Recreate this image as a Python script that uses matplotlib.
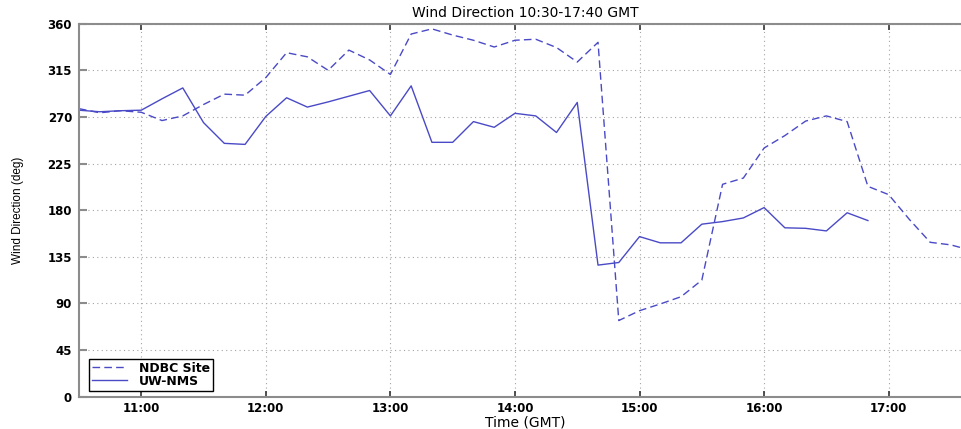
import matplotlib
matplotlib.use("Agg")
import matplotlib.pyplot as plt
import numpy as np

# sample times (GMT), 10 minute spacing
times = ["10:30", "10:40", "10:50", "11:00", "11:10", "11:20", "11:30", "11:40", "11:50",
         "12:00", "12:10", "12:20", "12:30", "12:40", "12:50", "13:00", "13:10", "13:20",
         "13:30", "13:40", "13:50", "14:00", "14:10", "14:20", "14:30", "14:40", "14:50",
         "15:00", "15:10", "15:20", "15:30", "15:40", "15:50", "16:00", "16:10", "16:20",
         "16:30", "16:40", "16:50", "17:00", "17:10", "17:20", "17:30", "17:40"]

# buoy wind direction (deg)
ndbc = [278, 274, 276, 274.5, 266.5, 271, 282, 292, 291,
        308, 332, 328, 315, 334.5, 325, 311, 350, 355,
        349, 344, 337.5, 344, 345, 337, 323, 342, 73.5,
        83, 89.5, 96.5, 112.5, 205, 211, 240, 252, 266,
        271, 265.5, 203, 195, 171, 149, 146.5, 141]

# model wind direction (deg), ends at 16:50
uwnms = [276.5, 275, 276, 276.5, 287.5, 298, 264.5, 244.5, 243.5,
         270.5, 288.5, 279.5, 284.5, 290, 295.5, 271, 300, 245.5,
         245.5, 265.5, 260, 273.5, 271, 255, 284, 127, 129.5,
         154.5, 148.5, 148.5, 166.5, 169, 172.5, 182.5, 163, 162.5,
         160, 177.5, 170]

xticks = ["11:00", "12:00", "13:00", "14:00", "15:00", "16:00", "17:00"]
yticks = [0, 45, 90, 135, 180, 225, 270, 315, 360]


def hours(s):
    h, m = s.split(":")
    return int(h) + int(m) / 60.


t = np.array([hours(s) for s in times])
col = '#4a4ac6'

fig = plt.figure(figsize=(9.62, 4.29), dpi=100)
ax = fig.add_axes([0.0821, 0.0753, 0.928, 0.8695])

ax.plot(t, ndbc, color=col, lw=1.0, dashes=(5.5, 3), label='NDBC Site')
ax.plot(t[:len(uwnms)], uwnms, color=col, lw=1.0, label='UW-NMS')

ax.set_xlim(hours("10:30"), hours("17:40"))
ax.set_ylim(0, 360)
ax.set_xticks([hours(s) for s in xticks])
ax.set_xticklabels(xticks)
ax.set_yticks(yticks)

ax.grid(True, color='#a4a4a4', linestyle=(0, (1, 3)), lw=0.8)

for s in ax.spines.values():
    s.set_color('#8c8c8c')
    s.set_linewidth(1.5)

ax.tick_params(axis='x', direction='in', top=True, length=4, width=1.2,
               color='#333333', pad=4)
ax.tick_params(axis='y', direction='in', right=True, length=6, width=1.5,
               color='#8c8c8c', pad=5)
for lab in ax.get_xticklabels() + ax.get_yticklabels():
    lab.set_fontsize(8.5)
    lab.set_fontweight('bold')
    lab.set_family('DejaVu Sans')

ax.set_title('Wind Direction 10:30-17:40 GMT', fontsize=10, pad=5)
ax.set_xlabel('Time (GMT)', fontsize=10, labelpad=0)
ax.set_ylabel('Wind Direction (deg)', fontsize=8.5,
              family=['Liberation Sans Narrow', 'Liberation Sans', 'DejaVu Sans'])
ax.yaxis.set_label_coords(-0.0616, 0.5)

leg = ax.legend(loc='lower left', bbox_to_anchor=(0.0115, 0.0153),
                borderaxespad=0, prop={'size': 9, 'weight': 'bold'},
                handlelength=2.8, handletextpad=0.9, labelspacing=0.0,
                borderpad=0.25, fancybox=False, framealpha=1)
leg.get_frame().set_edgecolor('black')
leg.get_frame().set_linewidth(1.0)

fig.savefig('out.png', dpi=100)
